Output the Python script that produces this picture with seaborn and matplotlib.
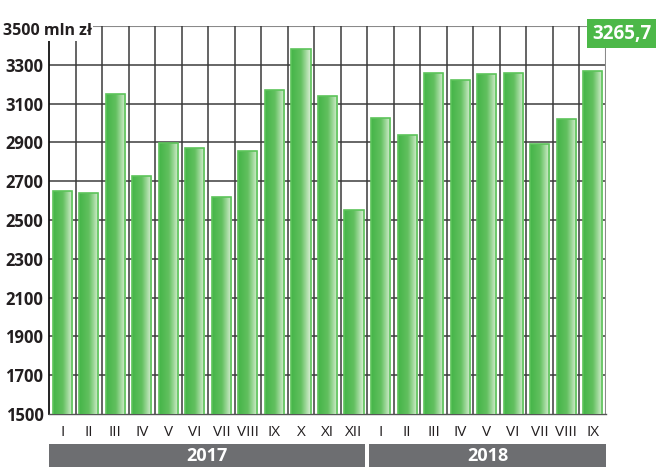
import numpy as np
import pandas as pd
import matplotlib
matplotlib.use("Agg")
import matplotlib.pyplot as plt
import seaborn as sns
from matplotlib.colors import LinearSegmentedColormap
from matplotlib.patches import Rectangle

# ---- data ----
months = ["I", "II", "III", "IV", "V", "VI", "VII", "VIII", "IX", "X", "XI", "XII",
          "I", "II", "III", "IV", "V", "VI", "VII", "VIII", "IX"]
values = [2652, 2638, 3149, 2728, 2895, 2873, 2617, 2856, 3169, 3380, 3141, 2553,
          3024, 2940, 3259, 3220, 3251, 3256, 2890, 3019, 3265.7]
years = ["2017", "2018"]
year_counts = [12, 9]
y_ticks = [1500, 1700, 1900, 2100, 2300, 2500, 2700, 2900, 3100, 3300]
top_label = "3500 mln zł"
last_label = "3265,7"

df = pd.DataFrame({"pos": list(range(len(values))), "value": values})

sns.set_theme(style="white")
FAM = ["Open Sans", "DejaVu Sans"]
plt.rcParams["font.family"] = FAM

W, H = 656, 467
fig = plt.figure(figsize=(W / 100, H / 100), dpi=100)
ax_l, ax_r, ax_t, ax_b = 49, 606, 26, 414
ax = fig.add_axes([ax_l / W, 1 - ax_b / H, (ax_r - ax_l) / W, (ax_b - ax_t) / H])

sns.barplot(data=df, x="pos", y="value", ax=ax, width=0.72, color="#4cb848",
            edgecolor="#5cc35a", linewidth=1.2, zorder=3)

n = len(values)

# gradient fill for bars
cmap = LinearSegmentedColormap.from_list(
    "g", [(0, "#45b548"), (0.5, "#62c05f"), (1.0, "#dcf0d7")])
grad = np.linspace(0, 1, 64).reshape(1, -1)
for p in ax.patches:
    x0, y0 = p.get_x(), 1500
    w, h = p.get_width(), p.get_height()
    im = ax.imshow(grad, cmap=cmap, aspect="auto", extent=[x0, x0 + w, y0, h],
                   zorder=3.5, interpolation="bicubic")
    im.set_clip_path(p)
    p.set_facecolor("none")
    p.set_zorder(4)
ax.set_xlim(-0.5, n - 0.5)
ax.set_ylim(1500, 3500)

# grid lines
for yv in y_ticks[1:]:
    ax.axhline(yv, color="#4d4d4d", lw=1.2, zorder=1)
ax.axhline(3500, color="#8a8a8a", lw=1.5, zorder=1)
for i in range(1, n):
    ax.axvline(i - 0.5, color="#3a3a3a", lw=1.1, zorder=1)

for s in ["top", "right"]:
    ax.spines[s].set_visible(False)
ax.axvline(n - 0.5, color="#8a8a8a", lw=1.5, zorder=1)
ax.spines["left"].set_color("#111111")
ax.spines["left"].set_linewidth(1.3)
ax.spines["bottom"].set_color("#555555")
ax.spines["bottom"].set_linewidth(1.0)

ax.set_yticks(y_ticks)
ax.set_yticklabels([str(v) for v in y_ticks])
for t in ax.get_yticklabels():
    t.set_fontfamily(FAM)
    t.set_fontsize(12)
    t.set_fontweight("bold")
    t.set_color("#231f20")
ax.set_xticks(range(n))
ax.set_xticklabels(months)
for t in ax.get_xticklabels():
    t.set_fontfamily(FAM)
    t.set_fontsize(11)
    t.set_color("#231f20")
ax.tick_params(axis="both", length=0)
ax.tick_params(axis="y", pad=4)
ax.tick_params(axis="x", pad=8)
ax.set_xlabel("")
ax.set_ylabel("")

# white box behind top-left label
fig.add_artist(Rectangle((46 / W, 1 - 41 / H), (93 - 46) / W, 23 / H,
                         transform=fig.transFigure, facecolor="white",
                         edgecolor="none", zorder=5))
fig.text(92 / W, 1 - 31 / H, top_label, ha="right", va="center", fontsize=11.5,
         fontweight="bold", color="#231f20", zorder=6, family=FAM)

# year bands
start = -0.5
trans = ax.get_xaxis_transform()
for k, (yr, c) in enumerate(zip(years, year_counts)):
    x0 = start + (0.0 if k == 0 else 0.08)
    x1 = start + c - (0.08 if k == 0 else 0.0)
    ax.add_patch(Rectangle((x0, -(467 - 414) / 388), x1 - x0, (467 - 444) / 388,
                           transform=trans, facecolor="#6d6e71", edgecolor="none",
                           clip_on=False, zorder=2))
    ax.text((x0 + x1) / 2, -(456 - 414) / 388, yr, transform=trans, ha="center",
            va="center", fontsize=13, fontweight="bold", color="white", family=FAM)
    start += c

# last value box
fig.add_artist(Rectangle((587 / W, 1 - 48 / H), (W - 587) / W, 29 / H,
                         transform=fig.transFigure, facecolor="#4cb848",
                         edgecolor="none", zorder=5))
fig.text(622 / W, 1 - 34 / H, last_label, ha="center", va="center", fontsize=13.5,
         fontweight="bold", color="white", zorder=6, family=FAM)

fig.savefig("out.png", dpi=100)
